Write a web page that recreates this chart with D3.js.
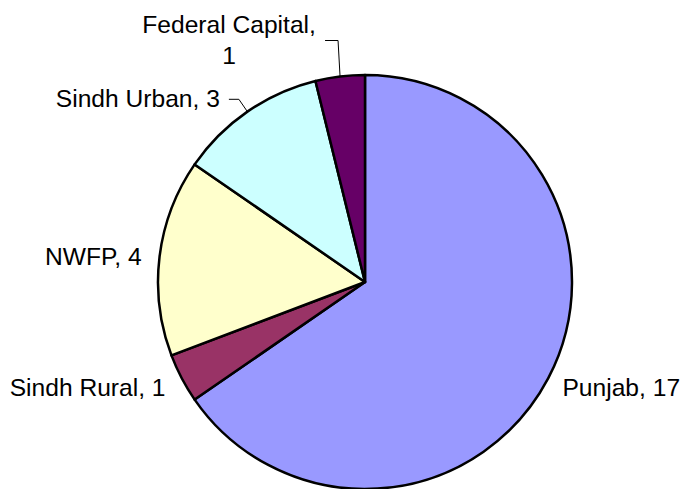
<!DOCTYPE html>
<html>
<head>
<meta charset="utf-8">
<script src="https://cdn.jsdelivr.net/npm/d3@7"></script>
<style>
  body { margin: 0; background: #fff; }
  svg text { font-family: "Liberation Sans", Arial, sans-serif; font-size: 24.6px; fill: #000; }
</style>
</head>
<body>
<div id="chart"></div>
<script>
// data
var categories = ["Punjab", "Sindh Rural", "NWFP", "Sindh Urban", "Federal Capital"];
var values = [17, 1, 4, 3, 1];
var colors = ["#9999FF", "#993366", "#FFFFCC", "#CCFFFF", "#660066"];

var width = 680, height = 489;
var cx = 365, cy = 282, r = 207;

var svg = d3.select("#chart").append("svg")
    .attr("width", width).attr("height", height);
var g = svg.append("g").attr("transform", "translate(" + cx + "," + cy + ")");

var pie = d3.pie().sort(null).value(function (d) { return d.value; });
var arcs = pie(categories.map(function (c, i) { return {name: c, value: values[i], color: colors[i]}; }));
var arc = d3.arc().innerRadius(0).outerRadius(r);

g.selectAll("path.slice")
    .data(arcs)
    .enter().append("path")
    .attr("class", "slice")
    .attr("d", arc)
    .attr("fill", function (d) { return d.data.color; })
    .attr("stroke", "#000")
    .attr("stroke-width", 2.5)
    .attr("stroke-linejoin", "round");

function pointAt(d, rad) {
    var a = (d.startAngle + d.endAngle) / 2;
    return [Math.sin(a) * rad, -Math.cos(a) * rad];
}

// labels: big slices get a plain label, small top slices get a leader line
arcs.forEach(function (d) {
    var label = d.data.name + ", " + d.data.value;
    var edge = pointAt(d, r);
    if (d.data.name === "Sindh Urban") {
        var elbow = pointAt(d, r + 15);
        var end = [elbow[0] - 10, elbow[1]];
        g.append("polyline")
            .attr("points", [edge, elbow, end].map(function (p) { return p.join(","); }).join(" "))
            .attr("fill", "none").attr("stroke", "#000").attr("stroke-width", 1);
        g.append("text").attr("x", end[0] - 9).attr("y", end[1] + 8)
            .attr("text-anchor", "end").text(label);
    } else if (d.data.name === "Federal Capital") {
        var elbow2 = [edge[0] - 2, edge[1] - 36];
        var end2 = [elbow2[0] - 13, elbow2[1]];
        g.append("polyline")
            .attr("points", [edge, elbow2, end2].map(function (p) { return p.join(","); }).join(" "))
            .attr("fill", "none").attr("stroke", "#000").attr("stroke-width", 1);
        var t = g.append("text").attr("text-anchor", "middle");
        t.append("tspan").attr("x", end2[0] - 96).attr("y", end2[1] - 8).text(d.data.name + ",");
        t.append("tspan").attr("x", end2[0] - 96).attr("y", end2[1] + 23).text(d.data.value);
    } else {
        var p = pointAt(d, r + 16);
        var right = p[0] > 0;
        g.append("text").attr("x", right ? p[0] : p[0] - 2).attr("y", p[1] + 10)
            .attr("text-anchor", right ? "start" : "end").text(label);
    }
});
</script>
</body>
</html>
